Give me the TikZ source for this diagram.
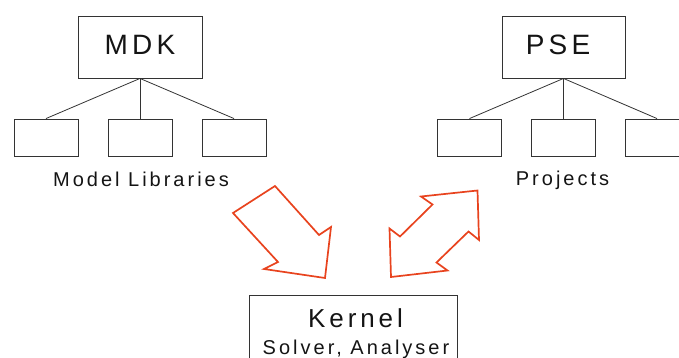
\documentclass[tikz,border=0pt]{standalone}
\usepackage{fontspec}
\setmainfont{Liberation Sans}
\newfontfamily\spacedfont[LetterSpace=15]{Liberation Sans}
\definecolor{arrowred}{HTML}{E8431E}
\definecolor{boxline}{HTML}{333333}
\begin{document}
\begin{tikzpicture}[x=1pt,y=-1pt,
  bigbox/.style={draw=boxline,line width=0.9pt,minimum width=124pt,minimum height=62pt,inner sep=0pt},
  smallbox/.style={draw=boxline,line width=0.9pt,minimum width=64pt,minimum height=37pt,inner sep=0pt},
  branch/.style={draw=boxline,line width=0.8pt},
  lbl/.style={anchor=base,inner sep=0pt,font=\spacedfont\fontsize{20}{24}\selectfont,text=black!92},
  title/.style={anchor=base,inner sep=0pt,font=\spacedfont\fontsize{28}{32}\selectfont,text=black!92},
  bigarrow/.style={draw=arrowred,line width=1.7pt,line join=miter}]
\useasboundingbox (0,0) rectangle (679,358);
\clip (0,0) rectangle (679,358);
% MDK tree
\node[bigbox] (mdk) at (140,47) {};
\node[title] (mdkt) at (140,55) {MDK};
\node[smallbox] (lib1) at (46,137.5) {};
\node[smallbox] (lib2) at (140,137.5) {};
\node[smallbox] (lib3) at (234,137.5) {};
\draw[branch] (mdk.south) -- (lib1.north);
\draw[branch] (mdk.south) -- (lib2.north);
\draw[branch] (mdk.south) -- (lib3.north);
\node[lbl] (libt) at (141,186) {Model Libraries};
% PSE tree
\node[bigbox,minimum width=123pt] (pse) at (563.5,47) {};
\node[title] (pset) at (558,55) {PSE};
\node[smallbox] (prj1) at (469.5,137.5) {};
\node[smallbox] (prj2) at (563.5,137.5) {};
\node[smallbox] (prj3) at (657,137.5) {};
\draw[branch] (pse.south) -- (prj1.north);
\draw[branch] (pse.south) -- (prj2.north);
\draw[branch] (pse.south) -- (prj3.north);
\node[lbl] (prjt) at (562.5,185) {Projects};
% Kernel
\node[draw=boxline,line width=0.9pt,minimum width=208pt,minimum height=90pt,inner sep=0pt] (kernel) at (353,340) {};
\node[anchor=base,inner sep=0pt,font=\spacedfont\fontsize{26}{30}\selectfont,text=black!92] (kernelt) at (355.5,327) {Kernel};
\node[lbl] (solvert) at (356,354) {Solver, Analyser};
% arrows
\draw[bigarrow] (233,213) -- (275,186) -- (319,235) -- (331,227) -- (325,278) -- (264,269) -- (278,262) -- cycle;
\draw[bigarrow] (391,277) -- (389.5,228.5) -- (400,236.5) -- (432.5,204.5) -- (421,196.5) -- (477.5,190.5) -- (479,240) -- (468.5,231.5) -- (436.5,262.5) -- (447.5,270.5) -- cycle;
\end{tikzpicture}
\end{document}
